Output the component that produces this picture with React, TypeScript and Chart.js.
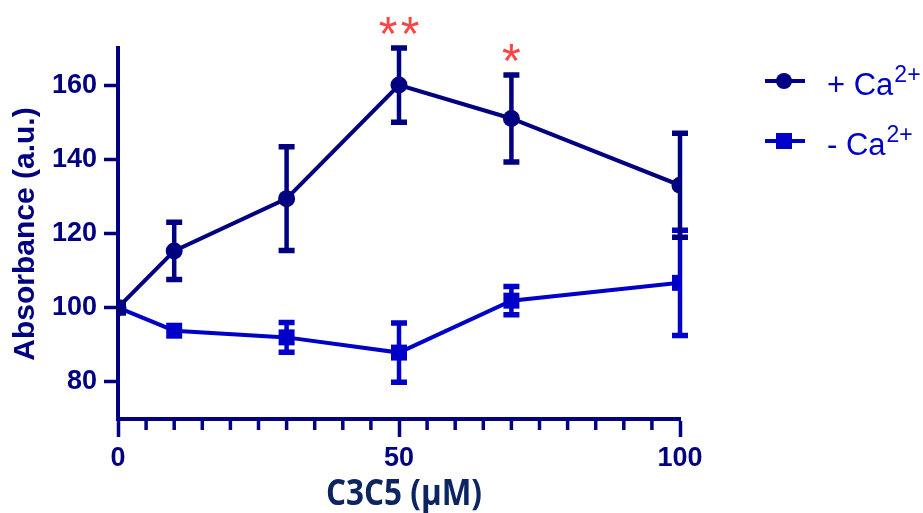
import React, { useEffect, useRef } from "react";
import { Chart, registerables } from "chart.js";

Chart.register(...registerables);

const xValues = [0, 10, 30, 50, 70, 100];
const plusMean = [100, 115.3, 129.4, 160, 151, 133];
const plusErr = [0, 7.7, 14, 10, 11.7, 14];
const minusMean = [100, 93.8, 92, 87.9, 101.9, 106.7];
const minusErr = [0, 0, 4, 8, 3.8, 14.2];
const yTicks = [80, 100, 120, 140, 160];
const xTicks = [0, 50, 100];
const seriesNames = ["+ Ca", "- Ca"];
const superscript = "2+";
const stars = [
  { x: 50, count: 2, top: 170 },
  { x: 70, count: 1, top: 162.7 },
];

const NAVY = "#000080";
const BLUE = "#0000C8";
const FONT = "'Liberation Sans', Arial, sans-serif";

const errorBarPlugin = {
  id: "errorBars",
  beforeDatasetsDraw(chart: any) {
    const ctx = chart.ctx;
    const xs = chart.scales.x;
    const ys = chart.scales.y;
    const sets = [
      { mean: minusMean, err: minusErr, color: BLUE },
      { mean: plusMean, err: plusErr, color: NAVY },
    ];
    ctx.save();
    for (const s of sets) {
      ctx.strokeStyle = s.color;
      xValues.forEach((xv, i) => {
        if (!s.err[i]) return;
        const px = xs.getPixelForValue(xv);
        const top = ys.getPixelForValue(s.mean[i] + s.err[i]);
        const bot = ys.getPixelForValue(s.mean[i] - s.err[i]);
        ctx.lineWidth = 4.5;
        ctx.beginPath();
        ctx.moveTo(px, top);
        ctx.lineTo(px, bot);
        ctx.stroke();
        ctx.lineWidth = 5.5;
        ctx.beginPath();
        ctx.moveTo(px - 8, top);
        ctx.lineTo(px + 8, top);
        ctx.moveTo(px - 8, bot);
        ctx.lineTo(px + 8, bot);
        ctx.stroke();
      });
    }
    ctx.restore();
  },
  afterDraw(chart: any) {
    const ctx = chart.ctx;
    const xs = chart.scales.x;
    const ys = chart.scales.y;
    const area = chart.chartArea;
    ctx.save();
    // minor x ticks
    ctx.strokeStyle = NAVY;
    ctx.lineWidth = 3.5;
    for (let v = 5; v < 100; v += 5) {
      if (v % 50 === 0) continue;
      const px = xs.getPixelForValue(v);
      ctx.beginPath();
      ctx.moveTo(px, area.bottom);
      ctx.lineTo(px, area.bottom + 11);
      ctx.stroke();
    }
    // stars
    ctx.fillStyle = "#FF4444";
    ctx.font = `48px ${FONT}`;
    ctx.textAlign = "center";
    ctx.textBaseline = "alphabetic";
    for (const s of stars) {
      const px = xs.getPixelForValue(s.x);
      const py = ys.getPixelForValue(s.top) + 2;
      for (let k = 0; k < s.count; k++) {
        const off = s.count === 1 ? 0 : (k - (s.count - 1) / 2) * 22;
        ctx.fillText("*", px + off, py);
      }
    }
    // x axis title
    ctx.fillStyle = "#0C2460";
    ctx.font = `bold 36px 'Open Sans', ${FONT}`;
    const title = "C3C5 (μM)";
    const tw = ctx.measureText(title).width;
    ctx.save();
    ctx.translate(404, 505);
    ctx.scale(156 / tw, 1);
    ctx.textAlign = "center";
    ctx.fillText(title, 0, 0);
    ctx.restore();
    // y axis title
    ctx.save();
    ctx.translate(26, 234);
    ctx.rotate(-Math.PI / 2);
    ctx.fillStyle = NAVY;
    ctx.font = `bold 30px ${FONT}`;
    ctx.textAlign = "center";
    ctx.textBaseline = "middle";
    ctx.fillText("Absorbance (a.u.)", 0, 0);
    ctx.restore();
    // legend
    const legendRows = [
      { y: 81, color: NAVY, shape: "circle", label: seriesNames[0] },
      { y: 141, color: BLUE, shape: "rect", label: seriesNames[1] },
    ];
    for (const r of legendRows) {
      ctx.strokeStyle = r.color;
      ctx.lineWidth = 4;
      ctx.beginPath();
      ctx.moveTo(765, r.y);
      ctx.lineTo(805, r.y);
      ctx.stroke();
      ctx.fillStyle = r.color;
      ctx.beginPath();
      if (r.shape === "circle") ctx.arc(784, r.y, 8, 0, Math.PI * 2);
      else ctx.rect(776, r.y - 8, 16, 16);
      ctx.fill();
      ctx.fillStyle = BLUE;
      ctx.textAlign = "left";
      ctx.textBaseline = "alphabetic";
      ctx.font = `31px ${FONT}`;
      ctx.fillText(r.label, 827, r.y + 14);
      const w = ctx.measureText(r.label).width;
      ctx.font = `23px ${FONT}`;
      ctx.fillText(superscript, 827 + w + 1, r.y + 1);
    }
    ctx.restore();
  },
};

export default function App() {
  const ref = useRef<HTMLCanvasElement>(null);
  useEffect(() => {
    if (!ref.current) return;
    const chart = new Chart(ref.current, {
      type: "line",
      data: {
        datasets: [
          {
            label: seriesNames[0],
            data: xValues.map((x, i) => ({ x, y: plusMean[i] })),
            borderColor: NAVY,
            backgroundColor: NAVY,
            borderWidth: 4,
            pointStyle: "circle",
            pointRadius: 8.5,
            pointBorderWidth: 0,
            tension: 0,
            order: 1,
          },
          {
            label: seriesNames[1],
            data: xValues.map((x, i) => ({ x, y: minusMean[i] })),
            borderColor: BLUE,
            backgroundColor: BLUE,
            pointBackgroundColor: xValues.map((_, i) => (i === 0 ? NAVY : BLUE)),
            borderWidth: 4,
            pointStyle: "rect",
            pointRadius: 11.3,
            pointBorderWidth: 0,
            tension: 0,
            order: 0,
          },
        ],
      },
      options: {
        animation: false,
        responsive: false,
        layout: { padding: { top: 48, right: 243, left: 0, bottom: 0 } },
        plugins: { legend: { display: false }, tooltip: { enabled: false } },
        scales: {
          x: {
            type: "linear",
            min: 0,
            max: 100,
            afterBuildTicks: (s: any) => {
              s.ticks = xTicks.map((v) => ({ value: v }));
            },
            afterFit: (s: any) => {
              s.height = 94;
            },
            border: { display: true, color: NAVY, width: 4 },
            grid: {
              drawOnChartArea: false,
              drawTicks: true,
              tickLength: 18,
              tickWidth: 3.5,
              tickColor: NAVY,
              color: NAVY,
            },
            ticks: {
              color: NAVY,
              font: { family: FONT, size: 27, weight: "bold" },
              padding: 5,
              maxRotation: 0,
            },
          },
          y: {
            min: 70,
            max: 170,
            afterBuildTicks: (s: any) => {
              s.ticks = yTicks.map((v) => ({ value: v }));
            },
            afterFit: (s: any) => {
              s.width = 118;
            },
            border: { display: true, color: NAVY, width: 4 },
            grid: {
              drawOnChartArea: false,
              drawTicks: true,
              tickLength: 14,
              tickWidth: 3.5,
              tickColor: NAVY,
              color: NAVY,
            },
            ticks: {
              color: NAVY,
              font: { family: FONT, size: 27, weight: "bold" },
              padding: 7,
            },
          },
        },
      },
      plugins: [errorBarPlugin],
    } as any);
    return () => chart.destroy();
  }, []);
  return (
    <div style={{ position: "fixed", left: 0, top: 0, width: 923, height: 513, background: "#fff" }}>
      <canvas ref={ref} width={923} height={513} style={{ width: 923, height: 513 }} />
    </div>
  );
}
